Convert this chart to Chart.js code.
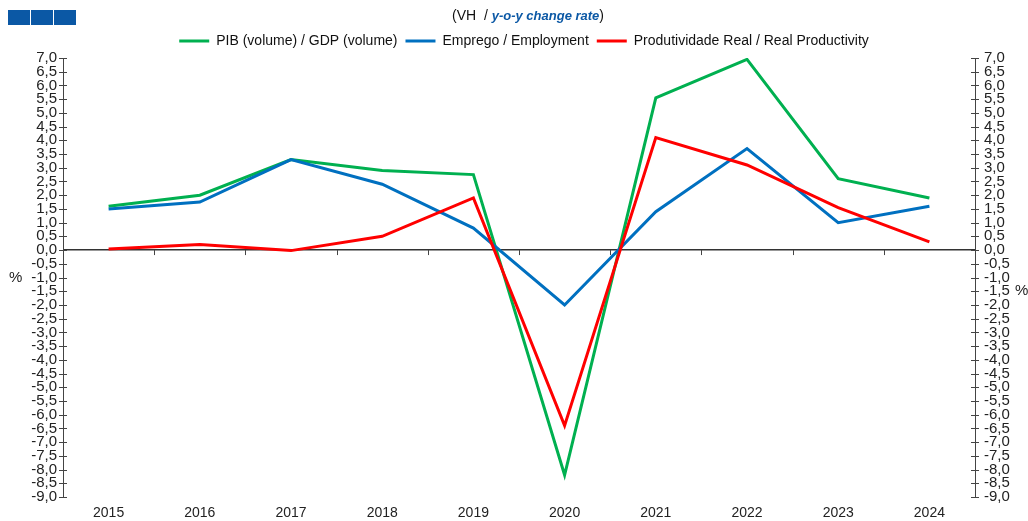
<!DOCTYPE html>
<html>
<head>
<meta charset="utf-8">
<script src="https://cdn.jsdelivr.net/npm/chart.js@4"></script>
<style>
  html, body { margin: 0; padding: 0; background: #fff; }
</style>
</head>
<body>
<canvas id="chart" width="1028" height="521"></canvas>
<script>
// dados (VH %)
const years = ['2015', '2016', '2017', '2018', '2019', '2020', '2021', '2022', '2023', '2024'];
const gdp = [1.6, 2.0, 3.3, 2.9, 2.75, -8.2, 5.55, 6.95, 2.6, 1.9];
const employment = [1.5, 1.75, 3.3, 2.4, 0.8, -2.0, 1.4, 3.7, 1.0, 1.6];
const productivity = [0.04, 0.2, -0.02, 0.5, 1.9, -6.4, 4.1, 3.1, 1.55, 0.3];
const yMin = -9, yMax = 7, yStep = 0.5;

const FONT = '"Liberation Sans", Arial, sans-serif';
const fmt = v => v.toFixed(1).replace('.', ',');

// titulo, logo, marcas dos eixos
const extras = {
  id: 'extras',
  afterDraw(chart) {
    const c = chart.ctx;
    const area = chart.chartArea;
    const yL = chart.scales.y, yR = chart.scales.y2, x = chart.scales.x;
    c.save();

    // logo (3 quadrados azuis)
    c.fillStyle = '#0b58a5';
    [8, 31, 54].forEach(px => c.fillRect(px, 10, 22, 15));

    // titulo
    c.textBaseline = 'middle';
    c.textAlign = 'left';
    const parts = [
      { t: '(VH  / ', f: '14px ' + FONT, col: '#111' },
      { t: 'y-o-y change rate', f: 'italic bold 13px ' + FONT, col: '#0b58a5' },
      { t: ')', f: '14px ' + FONT, col: '#111' }
    ];
    let w = 0;
    parts.forEach(p => { c.font = p.f; w += c.measureText(p.t).width; });
    let tx = 528 - w / 2;
    parts.forEach(p => {
      c.font = p.f; c.fillStyle = p.col;
      c.fillText(p.t, tx, 16);
      tx += c.measureText(p.t).width;
    });

    // % nos eixos
    c.font = '15px ' + FONT;
    c.fillStyle = '#222';
    c.fillText('%', 9, yL.getPixelForValue(-1));
    c.fillText('%', 1015, yR.getPixelForValue(-1.5));

    // marcas cruzadas nos eixos verticais
    c.strokeStyle = '#444';
    c.lineWidth = 1;
    c.beginPath();
    yL.ticks.forEach(t => {
      const py = Math.round(yL.getPixelForValue(t.value)) + 0.5;
      c.moveTo(area.left - 4, py); c.lineTo(area.left + 4, py);
      c.moveTo(area.right - 4, py); c.lineTo(area.right + 4, py);
    });
    // marcas no eixo x (linha do zero)
    const y0 = yL.getPixelForValue(0);
    for (let i = 0; i < years.length - 1; i++) {
      const mx = Math.round((x.getPixelForValue(i) + x.getPixelForValue(i + 1)) / 2) + 0.5;
      c.moveTo(mx, y0); c.lineTo(mx, y0 + 5);
    }
    c.stroke();
    c.restore();
  }
};

new Chart(document.getElementById('chart'), {
  type: 'line',
  data: {
    labels: years,
    datasets: [
      { label: 'PIB (volume) / GDP (volume)', data: gdp, borderColor: '#00b050', backgroundColor: '#00b050', order: 2 },
      { label: 'Emprego / Employment', data: employment, borderColor: '#0070c0', backgroundColor: '#0070c0', order: 1 },
      { label: 'Produtividade Real / Real Productivity', data: productivity, borderColor: '#ff0000', backgroundColor: '#ff0000', order: 0 }
    ]
  },
  options: {
    responsive: false,
    animation: false,
    devicePixelRatio: 1,
    elements: {
      line: { borderWidth: 3, tension: 0 },
      point: { radius: 0, hoverRadius: 0 }
    },
    layout: { padding: { top: 26, left: 20, right: 0, bottom: 0 } },
    scales: {
      x: {
        offset: true,
        grid: { display: false, drawTicks: false },
        border: { display: false },
        ticks: { font: { size: 14, family: FONT }, color: '#222', padding: 8, maxRotation: 0 },
        afterFit: s => { s.height = 24; }
      },
      y: {
        position: 'left',
        min: yMin, max: yMax,
        ticks: { stepSize: yStep, callback: fmt, font: { size: 15, family: FONT }, color: '#222', padding: 6, autoSkip: false },
        grid: {
          drawTicks: false,
          color: ctx => (ctx.tick && ctx.tick.value === 0) ? '#333' : 'rgba(0,0,0,0)',
          lineWidth: 1.5
        },
        border: { display: true, color: '#444', width: 1 },
        afterFit: s => { s.width = 43; }
      },
      y2: {
        position: 'right',
        min: yMin, max: yMax,
        ticks: { stepSize: yStep, callback: fmt, font: { size: 15, family: FONT }, color: '#222', padding: 9, autoSkip: false },
        grid: { display: false, drawTicks: false },
        border: { display: true, color: '#444', width: 1 },
        afterFit: s => { s.width = 53; }
      }
    },
    plugins: {
      legend: {
        position: 'top',
        labels: {
          boxWidth: 30, boxHeight: 3, padding: 8,
          font: { size: 14, family: FONT }, color: '#111',
          sort: (a, b) => a.datasetIndex - b.datasetIndex,
          generateLabels: chart => Chart.defaults.plugins.legend.labels.generateLabels(chart)
            .map(item => Object.assign(item, { lineWidth: 0 }))
        }
      },
      tooltip: { enabled: false }
    }
  },
  plugins: [extras]
});
</script>
</body>
</html>
